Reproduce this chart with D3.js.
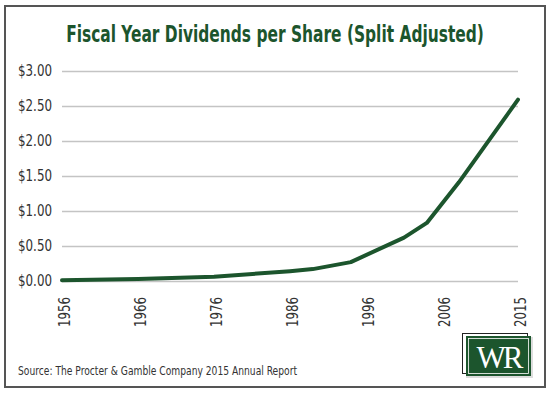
<!DOCTYPE html>
<html>
<head>
<meta charset="utf-8">
<script src="https://cdn.jsdelivr.net/npm/d3@7"></script>
<style>
html,body{margin:0;padding:0;background:#fff;}
svg{display:block;}
</style>
</head>
<body>
<svg id="chart" width="550" height="393"></svg>
<script>
// ---- data ----
const title = "Fiscal Year Dividends per Share (Split Adjusted)";
const source = "Source: The Procter & Gamble Company 2015 Annual Report";
const tickYears = [1956, 1966, 1976, 1986, 1996, 2006, 2015];
const years = [1956, 1966, 1976, 1986, 1989, 1994, 2001, 2004, 2008, 2015];
const dividends = [0.01, 0.03, 0.06, 0.14, 0.17, 0.27, 0.62, 0.83, 1.41, 2.59];
const yTicks = [0, 0.5, 1, 1.5, 2, 2.5, 3];

(function () {
const green = "#1c552d";
const svg = d3.select("#chart");
const condensed = "'Liberation Sans Narrow','DejaVu Sans Condensed','Roboto Condensed',sans-serif";

// frame
svg.append("rect").attr("x", 5).attr("y", 6).attr("width", 540).attr("height", 381)
  .attr("fill", "#fff").attr("stroke", "#555").attr("stroke-width", 2);

// title (condensed horizontally to match the reference width)
const tg = svg.append("g");
const tt = tg.append("text").attr("x", 0).attr("y", 0).attr("text-anchor", "middle")
  .attr("font-family", condensed).attr("font-weight", "bold").attr("font-size", 23)
  .attr("fill", green).text(title);
const tw = tt.node().getComputedTextLength() || 418;
tg.attr("transform", `translate(275,42) scale(${Math.min(1, 418 / tw)},1)`);

const mLeft = 62, mRight = 518, mTop = 71, mBottom = 281;
const xRange = tickYears.map((d, i) => mLeft + i * (mRight - mLeft) / (tickYears.length - 1));
const x = d3.scaleLinear().domain(tickYears).range(xRange);
const y = d3.scaleLinear().domain([0, 3]).range([mBottom, mTop]);

// grid
const yAxis = d3.axisLeft(y).tickValues(yTicks).tickSize(-(mRight - mLeft)).tickPadding(10)
  .tickFormat(d => "$" + d3.format(".2f")(d));
const gy = svg.append("g").attr("transform", `translate(${mLeft},0)`).call(yAxis);
gy.select(".domain").remove();
gy.selectAll(".tick line").attr("stroke", "#c4c4c4").attr("stroke-width", 1.5);
gy.selectAll(".tick text").attr("font-family", condensed).attr("font-size", 15)
  .attr("fill", "#333").attr("x", -10)
  .attr("textLength", 34).attr("lengthAdjust", "spacingAndGlyphs");

// x axis labels
const xAxis = d3.axisBottom(x).tickValues(tickYears).tickSize(0).tickFormat(d3.format("d"));
const gx = svg.append("g").attr("transform", `translate(0,${mBottom})`).call(xAxis);
gx.select(".domain").remove();
gx.selectAll(".tick text").attr("font-family", condensed).attr("font-size", 15)
  .attr("fill", "#333")
  .attr("text-anchor", "end").attr("transform", "rotate(-90)")
  .attr("x", -16).attr("y", 2).attr("dy", "0.35em")
  .attr("textLength", 30).attr("lengthAdjust", "spacingAndGlyphs");

// line
const line = d3.line().x((d, i) => x(years[i])).y(d => y(d));
svg.append("path").datum(dividends).attr("d", line)
  .attr("fill", "none").attr("stroke", green).attr("stroke-width", 4)
  .attr("stroke-linejoin", "round").attr("stroke-linecap", "round");

// source
svg.append("text").attr("x", 18).attr("y", 375)
  .attr("font-family", condensed).attr("font-size", 13).attr("fill", "#333")
  .attr("textLength", 279).attr("lengthAdjust", "spacingAndGlyphs")
  .text(source);

// logo
const lg = svg.append("g");
lg.append("rect").attr("x", 466).attr("y", 337).attr("width", 67).attr("height", 41)
  .attr("fill", "#ddd");
lg.append("rect").attr("x", 462.5).attr("y", 333.5).attr("width", 65).attr("height", 40)
  .attr("fill", "none").attr("stroke", "#222").attr("stroke-width", 1);
lg.append("rect").attr("x", 466).attr("y", 336).attr("width", 65).attr("height", 40)
  .attr("fill", green);
lg.append("rect").attr("x", 468.5).attr("y", 338.5).attr("width", 60).attr("height", 35)
  .attr("fill", "none").attr("stroke", "#fff").attr("stroke-width", 0.8);
lg.append("text").attr("x", 498.5).attr("y", 368).attr("text-anchor", "middle")
  .attr("font-family", "'Liberation Serif','DejaVu Serif',serif").attr("font-size", 31)
  .attr("fill", "#fff").attr("letter-spacing", -3).text("WR");
})();
</script>
</body>
</html>
